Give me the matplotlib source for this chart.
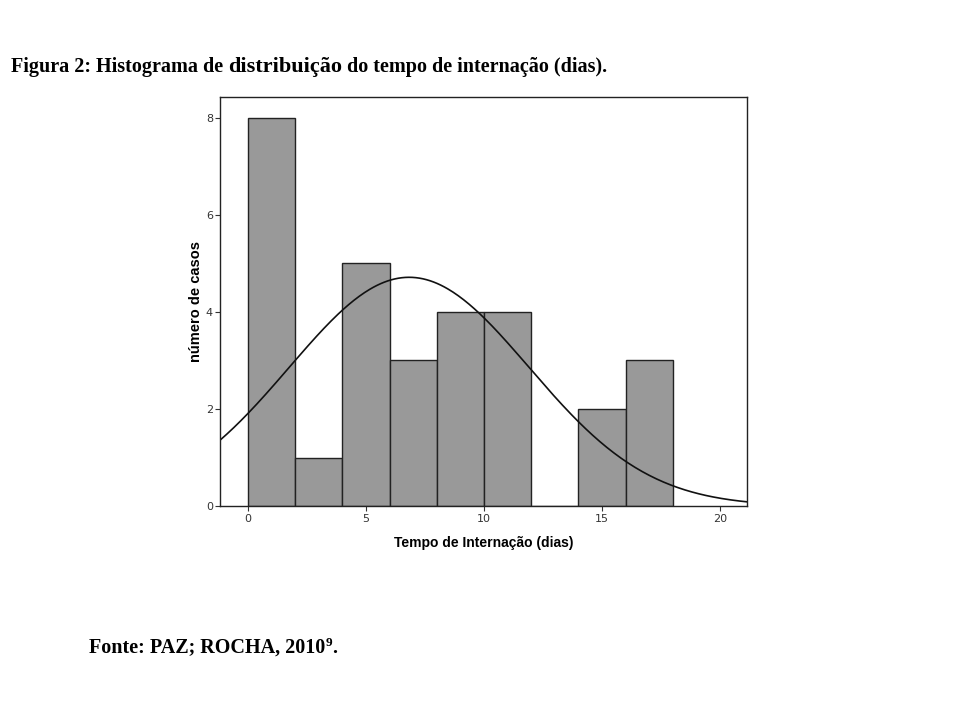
import numpy as np
import matplotlib.pyplot as plt

# histogram counts per 2-day bin
bin_edges = [0, 2, 4, 6, 8, 10, 12, 14, 16, 18]
counts = [8, 1, 5, 3, 4, 4, 0, 2, 3]

# fitted normal curve parameters (estimated)
mean_days = 6.83
sd_days = 5.08
n_cases = sum(counts)
bin_width = 2

fig = plt.figure(figsize=(9.6, 7.2), dpi=100)
ax = fig.add_axes([0.229, 0.297, 0.549, 0.568])

lefts = bin_edges[:-1]
ax.bar(lefts, counts, width=bin_width, align='edge',
       color='#999999', edgecolor='#222222', linewidth=1.0)

xs = np.linspace(-1.2, 21.2, 300)
ys = n_cases * bin_width / (sd_days * np.sqrt(2 * np.pi)) * np.exp(-(xs - mean_days) ** 2 / (2 * sd_days ** 2))
ax.plot(xs, ys, color='#111111', linewidth=1.2)

ax.set_xlim(-1.19, 21.14)
ax.set_ylim(0, 8.42)
ax.set_xticks([0, 5, 10, 15, 20])
ax.set_yticks([0, 2, 4, 6, 8])
for s in ax.spines.values():
    s.set_linewidth(1.0)
    s.set_color('#222222')
ax.tick_params(labelsize=8, colors='#333333', length=3.5, width=0.8)
ax.tick_params(axis='y', pad=1.5)
ax.tick_params(axis='x', pad=2.5)
ax.set_xlabel('Tempo de Internação (dias)', fontsize=10, fontweight='bold',
              family='Liberation Sans', labelpad=8)
ax.set_ylabel('número de casos', fontsize=10.5, fontweight='bold',
              family='Liberation Sans', labelpad=2)


def run_text(x, y, pieces):
    # draw text pieces one after another on the same baseline
    r = fig.canvas.get_renderer()
    for txt, kw in pieces:
        dy = kw.pop('dy', 0)
        t = fig.text(x, y + dy, txt, family='Liberation Serif', va='baseline',
                     fontweight='bold', **kw)
        bb = t.get_window_extent(renderer=r)
        x = bb.x1 / fig.bbox.width


run_text(0.011, 0.900, [
    ('Figura 2: ', dict(fontsize=14.5)),
    ('Histograma de ', dict(fontsize=14.5)),
    ('distribuição', dict(fontsize=16)),
    (' do tempo de internação (dias).', dict(fontsize=14.5)),
])

run_text(0.093, 0.093, [
    ('Fonte: ', dict(fontsize=14.5)),
    ('PAZ; ROCHA, 2010', dict(fontsize=14.5)),
    ('9', dict(fontsize=9.5, dy=0.010)),
    ('.', dict(fontsize=14.5)),
])

fig.savefig('out.png', dpi=100)
